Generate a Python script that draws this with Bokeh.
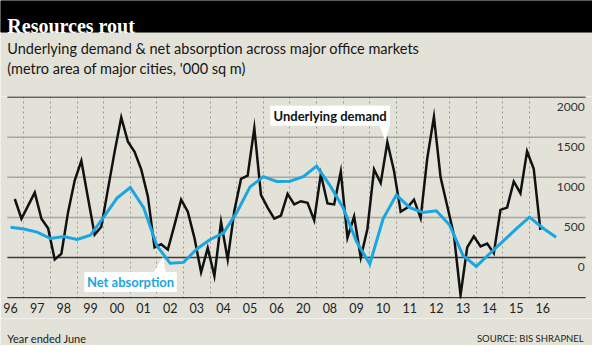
from bokeh.plotting import figure
from bokeh.models import Range1d, FixedTicker
from bokeh.layouts import column
from bokeh.embed import file_html
from bokeh.resources import INLINE
from bokeh.core.properties import value

# ---------------- data ----------------
year_ticks = list(range(21))
year_labels = ["96", "97", "98", "99", "00", "01", "02", "03", "04", "05", "06",
               "20", "08", "09", "10", "11", "12", "13", "14", "15", "16"]

# Underlying demand, quarterly ('000 sq m)
demand = [730, 484, 647, 810, 484, 365, -24, 48, 563, 960,
          1206, 742, 286, 385, 853, 1317, 1746, 1444, 1317, 1099,
          762, 127, 167, 99, 405, 722, 571, 246, -183, 119,
          -230, 444, -24, 583, 980, 1020, 1615, 782, 623, 484,
          524, 794, 663, 702, 683, 464, 1040, 675, 663, 1071,
          246, 512, 0, 357, 1099, 929, 1436, 1079, 571, 623,
          722, 492, 1238, 1754, 1000, 643, 286, -468, 127, 266,
          139, 175, 56, 595, 623, 948, 802, 1325, 1107, 345]
demand_x = [0.16 + 0.25 * i for i in range(len(demand))]

# Net absorption, half-yearly ('000 sq m)
absorption = [377, 357, 317, 238, 262, 226, 278, 504, 742, 873,
              623, 147, -71, -60, 107, 226, 306, 563, 881, 1008,
              948, 952, 1008, 1139, 900, 620, 200, -80, 484, 782,
              623, 563, 583, 405, 28, -111, 48, 202, 357, 504,
              369, 254]
absorption_x = [0.5 * i for i in range(len(absorption))]

y_ticks = [2000, 1500, 1000, 500, 0]
y_labels = ["2000", "1500", "1000", "500", "0"]
y_lines_light = [1500, 1000, 500]
y_lines_dark = [2000, 0, -500]

title = "Resources rout"
subtitle = ["Underlying demand & net absorption across major office markets",
            "(metro area of major cities, '000 sq m)"]
note_left = "Year ended June"
note_right = "SOURCE: BIS SHRAPNEL"

# ---------------- style ----------------
BG = "#e3e2d8"
BLUE = "#1aa6e0"
DARK = "#3a3a3a"
FONT = "Lato"
W, H = 592, 345
REF_W, REF_H = 608.0, 361.0
SY = H / REF_H

# layout helpers: reference-picture pixel -> data units of the main plot
X0_PX, PX_PER_YEAR = 10.33, 27.33
Y0_PX, PX_PER_500 = 269.0, 42.0


def px2x(px):
    return (px - X0_PX) / PX_PER_YEAR


def py2y(py):
    return (Y0_PX - py) * 500.0 / PX_PER_500


HEAD_H = 96
FRAME_H = 202
AXIS_H = 20
FOOT_H = H - HEAD_H - FRAME_H - AXIS_H
REF_FRAME_BOTTOM = 311.8
REF_FRAME_TOP = REF_FRAME_BOTTOM - FRAME_H / SY
REF_FOOT_TOP = REF_H - FOOT_H / SY


def panel(height, y_top, y_bottom):
    f = figure(width=W, height=height, x_range=Range1d(0, REF_W),
               y_range=Range1d(y_bottom, y_top), toolbar_location=None,
               output_backend="svg", min_border=0, x_axis_location=None,
               y_axis_location=None, outline_line_color=None,
               background_fill_color=BG, border_fill_color=BG)
    f.grid.visible = False
    return f


# ---------------- header ----------------
header = panel(HEAD_H, 0, REF_FRAME_TOP)
header.quad(left=[0], right=[REF_W], top=[0], bottom=[33], color="black")
header.text(x=[7], y=[27], text=[title], text_font=value("Liberation Serif"),
            text_font_style="bold", text_font_size="20px", text_color="white",
            text_baseline="alphabetic")
header.text(x=[7, 7], y=[50.5, 71], text=subtitle, text_font=value(FONT),
            text_font_size="14.5px", text_color="#151515", text_baseline="alphabetic")

# ---------------- main plot ----------------
p = figure(width=W, height=FRAME_H + AXIS_H,
           x_range=Range1d(px2x(0), px2x(REF_W)),
           y_range=Range1d(py2y(REF_FRAME_BOTTOM), py2y(REF_FRAME_TOP)),
           toolbar_location=None, output_backend="svg",
           y_axis_location=None, min_border_left=0, min_border_right=0,
           min_border_top=0, min_border_bottom=AXIS_H, outline_line_color=None,
           background_fill_color=BG, border_fill_color=BG)

p.xaxis.ticker = FixedTicker(ticks=year_ticks)
p.xaxis.major_label_overrides = {t: l for t, l in zip(year_ticks, year_labels)}
p.xaxis.axis_line_color = None
p.xaxis.major_tick_line_color = None
p.xaxis.minor_tick_line_color = None
p.xaxis.major_tick_out = 0
p.xaxis.major_tick_in = 0
p.xaxis.major_label_standoff = 4
p.xaxis.major_label_text_font = FONT
p.xaxis.major_label_text_font_size = "12.5px"
p.xaxis.major_label_text_color = "#222222"

p.xgrid.ticker = FixedTicker(ticks=[t + 0.5 for t in year_ticks[:-1]])
p.xgrid.grid_line_color = "#9a9a94"
p.xgrid.grid_line_dash = "2 3"
p.xgrid.grid_line_width = 1
p.ygrid.visible = False

gx0, gx1 = px2x(7), px2x(601)
p.segment(x0=[gx0] * len(y_lines_light), x1=[gx1] * len(y_lines_light),
          y0=y_lines_light, y1=y_lines_light, line_color="#a8a8a2", line_width=1.5)
p.segment(x0=[gx0] * len(y_lines_dark), x1=[gx1] * len(y_lines_dark),
          y0=y_lines_dark, y1=y_lines_dark, line_color=DARK, line_width=1.5)

p.text(x=[px2x(600)] * len(y_ticks), y=y_ticks, text=y_labels, text_align="right",
       text_baseline="middle", y_offset=9.5, text_font=value(FONT),
       text_font_size="12px", text_color="#333333")

p.line(demand_x, demand, line_color="#111111", line_width=2.5, line_join="miter")
p.line(absorption_x, absorption, line_color=BLUE, line_width=3, line_join="miter")

# callout: Underlying demand
p.quad(left=[px2x(277)], right=[px2x(400)], top=[py2y(110)], bottom=[py2y(131)],
       fill_color="white", line_color=None)
p.patch([px2x(389), px2x(395), px2x(400)], [py2y(130), py2y(147), py2y(130)],
        fill_color="white", line_color=None)
p.text(x=[px2x(338.5)], y=[py2y(121)], text=["Underlying demand"], text_align="center",
       text_baseline="middle", text_font=value(FONT), text_font_style="bold",
       text_font_size="13px", text_color="#111111")

# callout: Net absorption
p.quad(left=[px2x(86)], right=[px2x(181)], top=[py2y(284)], bottom=[py2y(305)],
       fill_color="white", line_color=None)
p.patch([px2x(157), px2x(167), px2x(170)], [py2y(285), py2y(268), py2y(285)],
        fill_color="white", line_color=None)
p.text(x=[px2x(133.5)], y=[py2y(295)], text=["Net absorption"], text_align="center",
       text_baseline="middle", text_font=value(FONT), text_font_style="bold",
       text_font_size="13px", text_color=BLUE)

# ---------------- footer ----------------
footer = panel(FOOT_H, REF_FOOT_TOP, REF_H)
footer.text(x=[7], y=[354], text=[note_left], text_font=value(FONT),
            text_font_size="11px", text_color="#222222", text_baseline="alphabetic")
footer.text(x=[599], y=[354], text=[note_right], text_font=value(FONT),
            text_font_size="9.5px", text_color="#222222", text_baseline="alphabetic",
            text_align="right")

layout = column(header, p, footer, spacing=0)
open("out.html", "w").write(file_html(layout, INLINE))
